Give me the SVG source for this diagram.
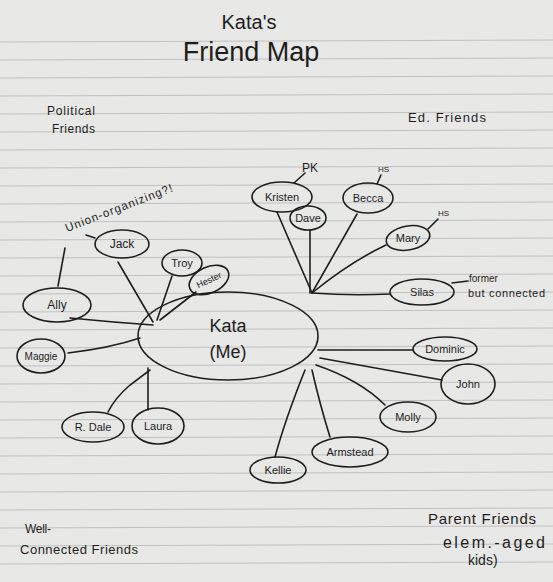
<svg xmlns="http://www.w3.org/2000/svg" width="553" height="582" viewBox="0 0 553 582">
<defs>
<style>
.paper{fill:#e8e8e6}
.rule{stroke:#bfc0c2;stroke-width:1}
ellipse,.ink{fill:none;stroke:#1e1e1e;stroke-width:1.6;stroke-linecap:round}
text{font-family:"Liberation Sans","DejaVu Sans",sans-serif;fill:#1e1e1e}
.lbl{text-anchor:middle}
.title{text-anchor:middle}
</style>
</defs>
<rect class="paper" x="0" y="0" width="553" height="582"/>
<g id="rules">
<line class="rule" x1="0" y1="42" x2="553" y2="40"/>
<line class="rule" x1="0" y1="60" x2="553" y2="58"/>
<line class="rule" x1="0" y1="78" x2="553" y2="76"/>
<line class="rule" x1="0" y1="96" x2="553" y2="94"/>
<line class="rule" x1="0" y1="114" x2="553" y2="112"/>
<line class="rule" x1="0" y1="132" x2="553" y2="130"/>
<line class="rule" x1="0" y1="150" x2="553" y2="148"/>
<line class="rule" x1="0" y1="168" x2="553" y2="166"/>
<line class="rule" x1="0" y1="186" x2="553" y2="184"/>
<line class="rule" x1="0" y1="204" x2="553" y2="202"/>
<line class="rule" x1="0" y1="222" x2="553" y2="220"/>
<line class="rule" x1="0" y1="240" x2="553" y2="238"/>
<line class="rule" x1="0" y1="258" x2="553" y2="256"/>
<line class="rule" x1="0" y1="276" x2="553" y2="274"/>
<line class="rule" x1="0" y1="294" x2="553" y2="292"/>
<line class="rule" x1="0" y1="312" x2="553" y2="310"/>
<line class="rule" x1="0" y1="330" x2="553" y2="328"/>
<line class="rule" x1="0" y1="348" x2="553" y2="346"/>
<line class="rule" x1="0" y1="366" x2="553" y2="364"/>
<line class="rule" x1="0" y1="384" x2="553" y2="382"/>
<line class="rule" x1="0" y1="402" x2="553" y2="400"/>
<line class="rule" x1="0" y1="420" x2="553" y2="418"/>
<line class="rule" x1="0" y1="438" x2="553" y2="436"/>
<line class="rule" x1="0" y1="456" x2="553" y2="454"/>
<line class="rule" x1="0" y1="474" x2="553" y2="472"/>
<line class="rule" x1="0" y1="492" x2="553" y2="490"/>
<line class="rule" x1="0" y1="510" x2="553" y2="508"/>
<line class="rule" x1="0" y1="528" x2="553" y2="526"/>
<line class="rule" x1="0" y1="546" x2="553" y2="544"/>
<line class="rule" x1="0" y1="564" x2="553" y2="562"/>
</g>
<g id="title">
<text class="title" x="249" y="29" style="font-size:20px">Kata's</text>
<text class="title" x="251" y="61" style="font-size:27px">Friend Map</text>
</g>
<g id="headings" style="font-size:12px">
<text x="47" y="115" textLength="48">Political</text>
<text x="52" y="133" textLength="43">Friends</text>
<text x="408" y="122" style="font-size:13px" textLength="78">Ed. Friends</text>
<text x="25" y="533" textLength="26">Well-</text>
<text x="20" y="554" style="font-size:13px" textLength="118">Connected Friends</text>
<text x="428" y="524" style="font-size:15px" textLength="108">Parent Friends</text>
<text x="443" y="548" style="font-size:16px" textLength="102">elem.-aged</text>
<text x="468" y="565" style="font-size:14px">kids)</text>
</g>
<g id="connectors">
<path class="ink" d="M70,318 Q110,322 153,325"/>
<path class="ink" d="M118,262 L153,322"/>
<path class="ink" d="M172,276 L157,320"/>
<path class="ink" d="M196,292 L160,320"/>
<path class="ink" d="M68,353 Q110,348 140,338"/>
<path class="ink" d="M108,412 Q115,398 130,385 L150,370"/>
<path class="ink" d="M148,410 L148,368"/>
<path class="ink" d="M277,212 L312,293"/>
<path class="ink" d="M310,230 L310,293"/>
<path class="ink" d="M357,214 L312,293"/>
<path class="ink" d="M386,245 Q350,262 312,293"/>
<path class="ink" d="M312,293 Q350,296 390,294"/>
<path class="ink" d="M318,350 L413,350"/>
<path class="ink" d="M320,358 L442,380"/>
<path class="ink" d="M316,365 Q360,380 385,405"/>
<path class="ink" d="M312,370 Q320,405 330,437"/>
<path class="ink" d="M305,370 Q285,420 275,457"/>
<path class="ink" d="M294,183 L305,173"/>
<path class="ink" d="M377,184 L381,175"/>
<path class="ink" d="M428,229 L438,219"/>
<path class="ink" d="M452,283 L468,281"/>
<path class="ink" d="M58,286 L65,248"/>
<path class="ink" d="M86,235 L95,238"/>
</g>
<g id="notes">
<text x="302" y="172" style="font-size:12px">PK</text>
<text x="378" y="172" style="font-size:8px">HS</text>
<text x="438" y="216" style="font-size:8px">HS</text>
<text x="469" y="282" style="font-size:10px">former</text>
<text x="468" y="297" style="font-size:11px" textLength="77">but connected</text>
<text transform="translate(67,232) rotate(-21)" style="font-size:11.5px" textLength="114">Union-organizing?!</text>
</g>
<g id="kata"><ellipse cx="228" cy="336" rx="90" ry="44"/><text class="lbl" x="228" y="332" style="font-size:18px">Kata</text><text class="lbl" x="228" y="358" style="font-size:18px">(Me)</text></g>
<g id="kristen" style="font-size:11px"><ellipse cx="282" cy="197" rx="30" ry="15"/><text class="lbl" x="282" y="201">Kristen</text></g>
<g id="dave" style="font-size:11px"><ellipse cx="308" cy="218" rx="18" ry="12"/><text class="lbl" x="308" y="222">Dave</text></g>
<g id="becca" style="font-size:11px"><ellipse cx="368" cy="198" rx="25" ry="15"/><text class="lbl" x="368" y="202">Becca</text></g>
<g id="mary" style="font-size:11px"><ellipse cx="408" cy="238" rx="22" ry="12" transform="rotate(-10 408 238)"/><text class="lbl" x="408" y="242">Mary</text></g>
<g id="silas" style="font-size:11px"><ellipse cx="422" cy="292" rx="32" ry="13"/><text class="lbl" x="422" y="296">Silas</text></g>
<g id="dominic" style="font-size:11px"><ellipse cx="445" cy="349" rx="32" ry="12"/><text class="lbl" x="445" y="353">Dominic</text></g>
<g id="john" style="font-size:11px"><ellipse cx="468" cy="384" rx="27" ry="20"/><text class="lbl" x="468" y="388">John</text></g>
<g id="molly" style="font-size:11px"><ellipse cx="408" cy="417" rx="28" ry="15"/><text class="lbl" x="408" y="421">Molly</text></g>
<g id="armstead" style="font-size:11px"><ellipse cx="350" cy="452" rx="38" ry="15"/><text class="lbl" x="350" y="456">Armstead</text></g>
<g id="kellie" style="font-size:11px"><ellipse cx="278" cy="470" rx="28" ry="13"/><text class="lbl" x="278" y="474">Kellie</text></g>
<g id="rdale" style="font-size:11px"><ellipse cx="93" cy="427" rx="31" ry="15"/><text class="lbl" x="93" y="431">R. Dale</text></g>
<g id="laura" style="font-size:11px"><ellipse cx="158" cy="426" rx="26" ry="18"/><text class="lbl" x="158" y="430">Laura</text></g>
<g id="ally" style="font-size:12px"><ellipse cx="57" cy="305" rx="34" ry="17"/><text class="lbl" x="57" y="309">Ally</text></g>
<g id="maggie" style="font-size:10px"><ellipse cx="41" cy="356" rx="24" ry="17"/><text class="lbl" x="41" y="360">Maggie</text></g>
<g id="jack" style="font-size:12px"><ellipse cx="122" cy="244" rx="27" ry="14"/><text class="lbl" x="122" y="248">Jack</text></g>
<g id="troy" style="font-size:11px"><ellipse cx="182" cy="263" rx="20" ry="13"/><text class="lbl" x="182" y="267">Troy</text></g>
<g id="hester" style="font-size:9px"><ellipse cx="209" cy="280" rx="21" ry="13" transform="rotate(-25 209 280)"/><text class="lbl" x="209" y="283" transform="rotate(-25 209 280)">Hester</text></g>
</svg>
